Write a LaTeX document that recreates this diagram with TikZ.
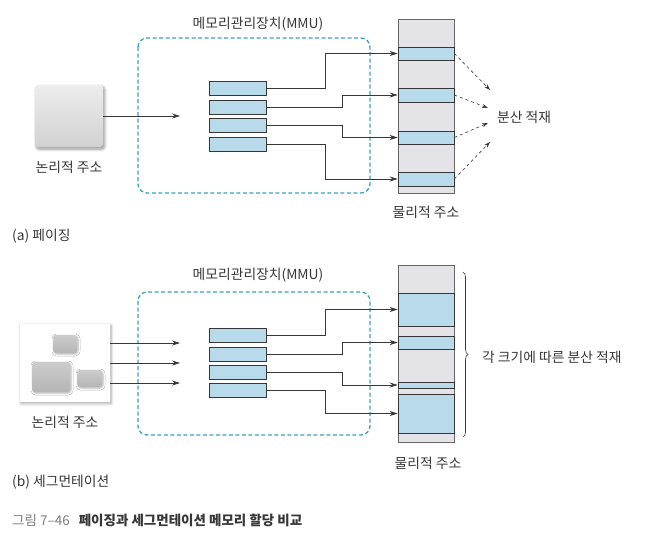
\documentclass[tikz,border=0pt]{standalone}
\usepackage{fontspec}
\setmainfont{Noto Sans CJK KR}
\usetikzlibrary{positioning,calc,arrows.meta,shadows,shadows.blur,decorations.pathreplacing}
\definecolor{MmuTeal}{RGB}{58,160,190}
\definecolor{SlotBlue}{RGB}{185,218,234}
\definecolor{MemGray}{RGB}{228,228,232}
\definecolor{InkGray}{RGB}{55,55,55}
\tikzset{
  lbl/.style={text=InkGray,font=\fontsize{13.8}{16}\selectfont,inner sep=0pt},
  mmu/.style={draw=MmuTeal,line width=1.3pt,dash pattern=on 4pt off 2.5pt,rounded corners=9pt},
  slot/.style={draw=InkGray,fill=SlotBlue,minimum width=57pt,minimum height=14pt,inner sep=0pt,line width=0.6pt},
  memcol/.style={draw=gray!80!black,fill=MemGray,minimum width=56pt,inner sep=0pt,line width=0.7pt},
  frame/.style={draw=InkGray,fill=SlotBlue,minimum width=56pt,inner sep=0pt,line width=0.6pt},
  link/.style={draw=InkGray,line width=0.7pt,-{Stealth[length=8pt,width=5pt]}},
  spread/.style={draw=InkGray,dashed,line width=0.6pt,-{Stealth[length=6pt,width=4pt]}},
  chunk/.style={top color=gray!40,bottom color=gray!58,rounded corners=3pt,
    blur shadow={shadow blur steps=5,shadow xshift=1pt,shadow yshift=-1pt,shadow blur radius=2pt,shadow opacity=30}},
}

\begin{document}
\begin{tikzpicture}[x=1pt,y=-1pt]
\useasboundingbox (0,0) rectangle (661,539);
% (a) paging
\node[lbl] (mmuta) at (258,24) {메모리관리장치(MMU)};
\draw[mmu] (138,38) rectangle (370,193);
\node[rounded corners=3pt,minimum width=68pt,minimum height=62pt,top color=gray!14,bottom color=gray!36,
  blur shadow={shadow blur steps=6,shadow xshift=1.5pt,shadow yshift=-2pt,shadow blur radius=3pt,shadow opacity=45}] (lga) at (69,116) {};
\node[lbl] (lgta) at (69,167) {논리적 주소};
\coordinate (ina) at (180,116);
\draw[link] (lga.east) -- (ina);
\node[slot] (sa1) at (237.5,88.5) {};
\node[slot] (sa2) at (237.5,107) {};
\node[slot] (sa3) at (237.5,125) {};
\node[slot] (sa4) at (237.5,144) {};
\node[memcol,minimum height=174pt] (mema) at (426,106) {};
\node[frame,minimum height=13pt] (fa1) at (426,53.5) {};
\node[frame,minimum height=14pt] (fa2) at (426,95) {};
\node[frame,minimum height=13pt] (fa3) at (426,137.5) {};
\node[frame,minimum height=14pt] (fa4) at (426,179) {};
\draw[link] (sa1.east) -- ++(59,0) |- (fa1.west);
\draw[link] (sa2.east) -- ++(76,0) |- (fa2.west);
\draw[link] (sa3.east) -- ++(76,0) |- (fa3.west);
\draw[link] (sa4.east) -- ++(59,0) |- (fa4.west);
\node[lbl,anchor=west] (spa) at (497,117) {분산 적재};
\coordinate (da1) at (490,90);
\coordinate (da2) at (488,108);
\coordinate (da3) at (488,123);
\coordinate (da4) at (490,142);
\draw[spread] (fa1.east) -- (da1);
\draw[spread] (fa2.east) -- (da2);
\draw[spread] (fa3.east) -- (da3);
\draw[spread] (fa4.east) -- (da4);
\node[lbl] (phta) at (426,212) {물리적 주소};
\node[lbl,anchor=west] (capa) at (12,236) {(a) 페이징};
% (b) segmentation
\node[lbl] (mmutb) at (258,275) {메모리관리장치(MMU)};
\draw[mmu] (138,292) rectangle (370,435);
\node[fill=white,minimum width=90pt,minimum height=78pt,
  blur shadow={shadow blur steps=6,shadow xshift=1pt,shadow yshift=-1.5pt,shadow blur radius=3pt,shadow opacity=35}] (lgb) at (65,363) {};
\node[chunk,minimum width=24pt,minimum height=18pt] (cb1) at (65,344) {};
\node[chunk,minimum width=38pt,minimum height=30pt] (cb2) at (51,377) {};
\node[chunk,minimum width=25pt,minimum height=17pt] (cb3) at (89.5,378.5) {};
\node[lbl] (lgtb) at (65,422) {논리적 주소};
\coordinate (inb1) at (180,343);
\coordinate (inb2) at (180,363);
\coordinate (inb3) at (180,383);
\draw[link] ($(lgb.east)+(0,-20)$) -- (inb1);
\draw[link] (lgb.east) -- (inb2);
\draw[link] ($(lgb.east)+(0,20)$) -- (inb3);
\node[slot] (sb1) at (237.5,335.5) {};
\node[slot] (sb2) at (237.5,354) {};
\node[slot] (sb3) at (237.5,372.5) {};
\node[slot] (sb4) at (237.5,390.5) {};
\node[memcol,minimum height=177pt] (memb) at (426,353.5) {};
\node[frame,minimum height=33pt] (fb1) at (426,309.5) {};
\node[frame,minimum height=13pt] (fb2) at (426,342.5) {};
\node[frame,minimum height=6pt] (fb3) at (426,385) {};
\node[frame,minimum height=39pt] (fb4) at (426,413.5) {};
\draw[link] (sb1.east) -- ++(59,0) |- (fb1.west);
\draw[link] (sb2.east) -- ++(76,0) |- (fb2.west);
\draw[link] (sb3.east) -- ++(76,0) |- (fb3.west);
\draw[link] (sb4.east) -- ++(59,0) |- (fb4.west);
\coordinate (brt) at (463,272);
\coordinate (brb) at (463,437);
\draw[decorate,decoration={brace,amplitude=5pt},draw=InkGray,line width=0.6pt] (brt) -- (brb);
\node[lbl,anchor=west] (spb) at (482,357) {각 크기에 따른 분산 적재};
\node[lbl] (phtb) at (428,463) {물리적 주소};
\node[lbl,anchor=west] (capb) at (12,482) {(b) 세그먼테이션};
% figure caption
\node[anchor=west,inner sep=0pt,font=\fontsize{13.5}{16}\selectfont] (fig) at (12,520)
  {\textcolor{gray}{그림 7–46}\hspace{9pt}\textcolor{InkGray}{\bfseries 페이징과 세그먼테이션 메모리 할당 비교}};
\end{tikzpicture}
\end{document}
